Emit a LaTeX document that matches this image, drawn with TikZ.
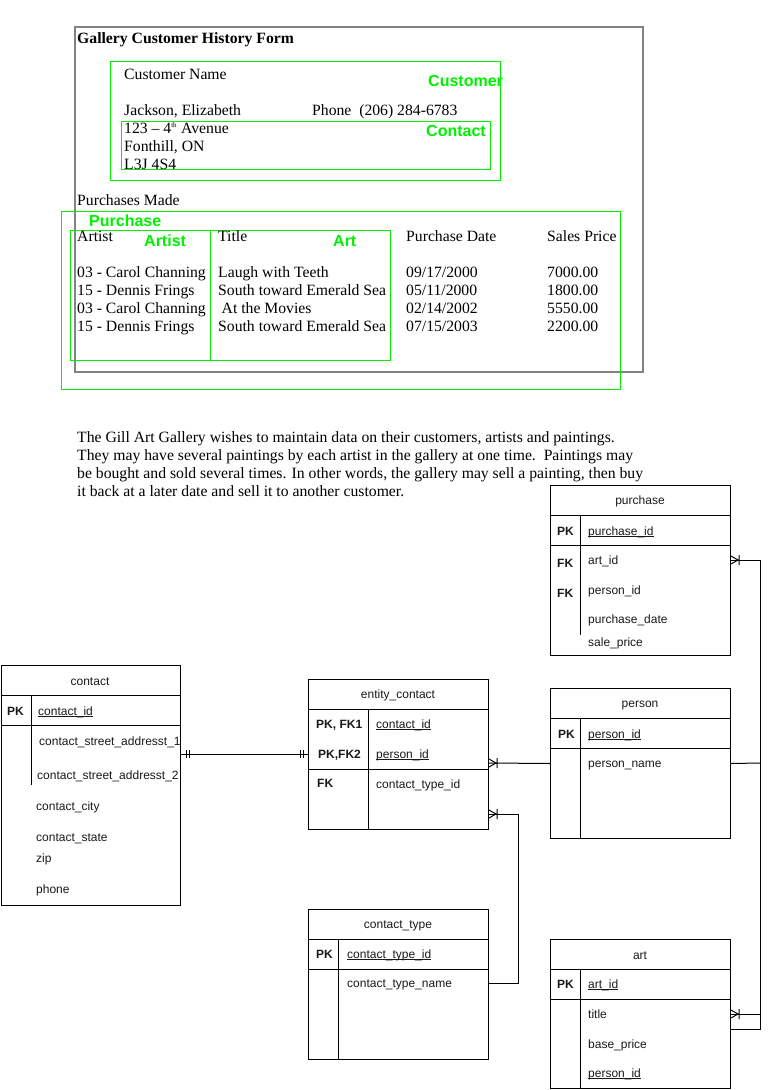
\documentclass[tikz,border=0pt]{standalone}
\usepackage{fontspec}
\setmainfont{Liberation Serif}
\newfontfamily\erfont{Liberation Sans}
\definecolor{taggreen}{RGB}{0,240,0}
\definecolor{framegray}{RGB}{130,130,130}
% underline that sits just under the baseline, as in the ER tables
\newcommand\keyline[1]{\setbox0\hbox{#1}\rlap{\rule[-2.2pt]{\wd0}{0.8pt}}\box0}
\begin{document}
\begin{tikzpicture}[x=1pt,y=-1pt,
  formtxt/.style={anchor=base west,inner sep=0pt,font=\fontsize{15.7}{18}\selectfont},
  formhead/.style={formtxt,font=\bfseries\fontsize{15.7}{18}\selectfont},
  tag/.style={anchor=base west,inner sep=0pt,text=taggreen,font=\erfont\bfseries\fontsize{16}{18}\selectfont},
  frame/.style={draw=taggreen,line width=0.9pt},
  erbox/.style={draw,line width=1pt,inner sep=0pt,anchor=north west},
  erline/.style={line width=1pt},
  ertxt/.style={anchor=base west,inner sep=0pt,text=black!90,font=\erfont\fontsize{12}{14}\selectfont},
  erkey/.style={ertxt,font=\erfont\bfseries\fontsize{12}{14}\selectfont},
  ertitle/.style={anchor=base,inner sep=0pt,text=black!90,font=\erfont\fontsize{12}{14}\selectfont},
  crowfoot/.pic={\draw[erline] (0,-4) -- (7,0) -- (0,4) (8,-5) -- (8,5);},
  onemark/.pic={\draw[erline] (5,-4) -- (5,4) (8,-4) -- (8,4);}
]
\useasboundingbox (0,0) rectangle (770,1090);

% ---------------- customer history form ----------------
\draw[framegray,line width=1.1pt] (75,27) rectangle (643,372);
\node[formhead] (formtitle) at (77,43) {Gallery Customer History Form};

\draw[frame] (110,61) rectangle (500,180);
\draw[frame] (121,121) rectangle (490,169);
\node[tag] (tagcustomer) at (428,86) {Customer};
\node[tag] (tagcontact) at (426,136) {Contact};

\node[formtxt] (custname) at (124,79) {Customer Name};
\node[formtxt] (name) at (124,115) {Jackson, Elizabeth};
\node[formtxt] (phone) at (312,115) {Phone\ \ (206) 284-6783};
\node[formtxt] (addr1) at (124,133) {123 -- 4\textsuperscript{\fontsize{7}{8}\selectfont th} Avenue};
\node[formtxt] (addr2) at (124,151) {Fonthill, ON};
\node[formtxt] (addr3) at (124,169) {L3J 4S4};

\node[formtxt] (purchmade) at (77,205) {Purchases Made};

\draw[frame] (61,211) rectangle (620,389);
\draw[frame] (70,230) rectangle (210,360);
\draw[frame] (210,230) rectangle (390,360);
\node[tag] (tagpurchase) at (89,226) {Purchase};
\node[tag] (tagartist) at (144,246) {Artist};
\node[tag] (tagart) at (333,246) {Art};

\node[formtxt] (hartist) at (77,241) {Artist};
\node[formtxt] (htitle) at (218,241) {Title};
\node[formtxt] (hdate) at (406,241) {Purchase Date};
\node[formtxt] (hprice) at (547,241) {Sales Price};

\foreach \artist/\title/\date/\price [count=\r] in {
  03 - Carol Channing/Laugh with Teeth/09\slash 17\slash 2000/7000.00,
  15 - Dennis Frings/South toward Emerald Sea/05\slash 11\slash 2000/1800.00,
  03 - Carol Channing/\hspace{3.5pt}At the Movies/02\slash 14\slash 2002/5550.00,
  15 - Dennis Frings/South toward Emerald Sea/07\slash 15\slash 2003/2200.00}{
  \node[formtxt] (artist\r) at (77,259+18*\r) {\artist};
  \node[formtxt] (title\r) at (218,259+18*\r) {\title};
  \node[formtxt] (date\r) at (406,259+18*\r) {\date};
  \node[formtxt] (price\r) at (547,259+18*\r) {\price};
}

% ---------------- description ----------------
\node[formtxt] (para1) at (77,442) {The Gill Art Gallery wishes to maintain data on their customers, artists and paintings.};
\node[formtxt] (para2) at (77,460) {They may have several paintings by each artist in the gallery at one time.\ \ Paintings may};
\node[formtxt] (para3) at (77,478) {be bought and sold several times. In other words, the gallery may sell a painting, then buy};
\node[formtxt] (para4) at (77,496) {it back at a later date and sell it to another customer.};

% ---------------- ER tables ----------------
% purchase
\node[erbox,minimum width=180,minimum height=170] (purchase) at (550,485) {};
\draw[erline] (550,515) -- (730,515) (550,545) -- (730,545) (580,515) -- (580,635);
\node[ertitle] (purchaseT) at (640,504) {purchase};
\node[erkey] (purchaseK) at (557,535) {PK};
\node[ertxt] (purchaseId) at (588,535) {\keyline{purchase\_id}};
\node[erkey] (purchaseF1) at (557,567) {FK};
\node[ertxt] (purchaseArt) at (588,564) {art\_id};
\node[erkey] (purchaseF2) at (557,597) {FK};
\node[ertxt] (purchasePerson) at (588,594) {person\_id};
\node[ertxt] (purchaseDate) at (588,623) {purchase\_date};
\node[ertxt] (purchasePrice) at (588,646) {sale\_price};

% contact
\node[erbox,minimum width=179.5,minimum height=240] (contact) at (0.5,665) {};
\draw[erline] (0.5,695) -- (180,695) (0.5,725) -- (180,725) (31,695) -- (31,785);
\node[ertitle] (contactT) at (90,685) {contact};
\node[erkey] (contactK) at (7,715) {PK};
\node[ertxt] (contactId) at (38,715) {\keyline{contact\_id}};
\node[ertxt] (contactA1) at (39,745) {contact\_street\_addresst\_1};
\node[ertxt] (contactA2) at (37,779) {contact\_street\_addresst\_2};
\node[ertxt] (contactCity) at (36,810) {contact\_city};
\node[ertxt] (contactState) at (36,841) {contact\_state};
\node[ertxt] (contactZip) at (36,862) {zip};
\node[ertxt] (contactPhone) at (36,893) {phone};

% entity_contact
\node[erbox,minimum width=180,minimum height=150] (entity) at (308,679) {};
\draw[erline] (308,709) -- (488,709) (308,769) -- (488,769) (368,709) -- (368,829);
\node[ertitle] (entityT) at (398,698) {entity\_contact};
\node[erkey] (entityK1) at (316,728) {PK, FK1};
\node[ertxt] (entityContact) at (376,728) {\keyline{contact\_id}};
\node[erkey] (entityK2) at (318,758) {PK,FK2};
\node[ertxt] (entityPerson) at (376,758) {\keyline{person\_id}};
\node[erkey] (entityF) at (317,787) {FK};
\node[ertxt] (entityType) at (376,788) {contact\_type\_id};

% person
\node[erbox,minimum width=180,minimum height=150] (person) at (550,688) {};
\draw[erline] (550,718) -- (730,718) (550,748) -- (730,748) (580,718) -- (580,838);
\node[ertitle] (personT) at (640,707) {person};
\node[erkey] (personK) at (558,738) {PK};
\node[ertxt] (personId) at (588,738) {\keyline{person\_id}};
\node[ertxt] (personName) at (588,767) {person\_name};

% contact_type
\node[erbox,minimum width=180,minimum height=150] (ctype) at (308,909) {};
\draw[erline] (308,939) -- (488,939) (308,969) -- (488,969) (338,939) -- (338,1059);
\node[ertitle] (ctypeT) at (398,928) {contact\_type};
\node[erkey] (ctypeK) at (316,958) {PK};
\node[ertxt] (ctypeId) at (347,958) {\keyline{contact\_type\_id}};
\node[ertxt] (ctypeName) at (347,987) {contact\_type\_name};

% art
\node[erbox,minimum width=180,minimum height=149] (art) at (550,939) {};
\draw[erline] (550,969) -- (730,969) (550,999) -- (730,999) (580,969) -- (580,1088);
\node[ertitle] (artT) at (640,959) {art};
\node[erkey] (artK) at (557,988) {PK};
\node[ertxt] (artId) at (588,988) {\keyline{art\_id}};
\node[ertxt] (artTitle) at (588,1018) {title};
\node[ertxt] (artPrice) at (588,1048) {base\_price};
\node[ertxt] (artPerson) at (588,1077) {\keyline{person\_id}};

% ---------------- relationships ----------------
\coordinate (cOut) at (contact.east |- 0,754);
\coordinate (eIn) at (entity.west |- 0,754);
\draw[erline] (cOut) -- (eIn);
\pic at (cOut) {onemark};
\pic[xscale=-1] at (eIn) {onemark};

\coordinate (eP) at (entity.east |- 0,763);
\draw[erline] (person.west) -- (eP);
\pic at (eP) {crowfoot};

\coordinate (eT) at (entity.east |- 0,814);
\coordinate (tOut) at (ctype.east |- 0,983);
\draw[erline] (tOut) -- (518,983) -- (518,814) -- (eT);
\pic at (eT) {crowfoot};

\coordinate (pA) at (purchase.east |- 0,560);
\coordinate (aEnd) at (art.east |- 0,1029);
\draw[erline] (pA) -- (760,560) -- (760,1029) -- (aEnd);
\pic at (pA) {crowfoot};

\coordinate (perOut) at (person.east);
\draw[erline] (perOut) -- (760,763);

\coordinate (aT) at (art.east |- 0,1014);
\draw[erline] (aT) -- (760,1014);
\pic at (aT) {crowfoot};
\end{tikzpicture}
\end{document}
